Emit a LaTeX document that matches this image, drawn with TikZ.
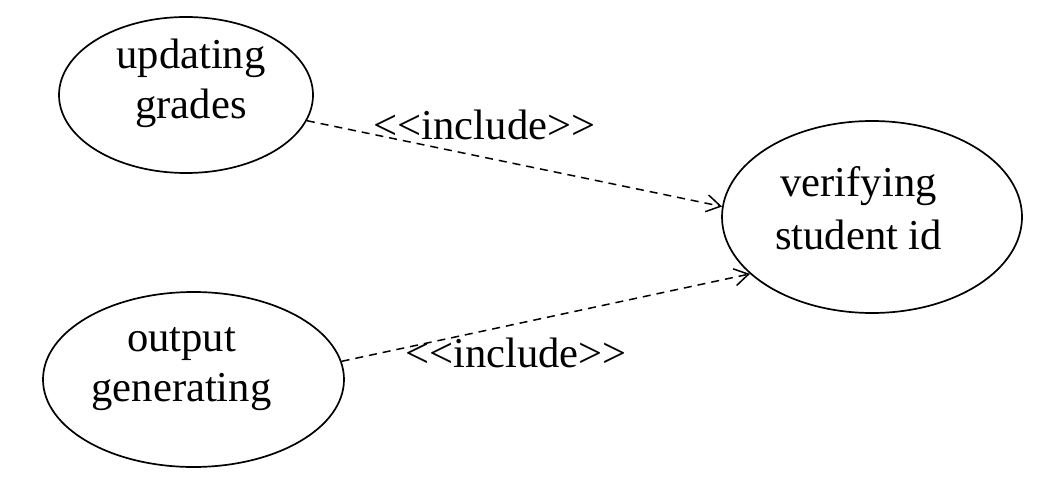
\documentclass[tikz,border=0pt]{standalone}
\usepackage{fontspec}
\setmainfont{Liberation Serif}
\usetikzlibrary{arrows.meta,shapes.geometric}

\tikzset{
  usecase/.style={draw, ellipse, line width=0.85pt, inner sep=0pt},
  uctext/.style={align=center, font=\fontsize{21.3}{25}\selectfont},
  incl/.style={dashed, dash pattern=on 4pt off 3pt, line width=0.75pt,
    -{Straight Barb[length=7pt,width=8.5pt,line width=0.75pt]}},
  incltext/.style={anchor=base, font=\fontsize{21.3}{25}\selectfont}
}

\begin{document}
\begin{tikzpicture}[x=0.5pt, y=-0.5pt]
			\useasboundingbox (0, 0) rectangle (1053, 497);

			\node[usecase, minimum width=127pt, minimum height=78pt] (upd) at (186, 95) {};
			\node[usecase, minimum width=150.5pt, minimum height=87.5pt] (out) at (193.5, 379.5) {};
			\node[usecase, minimum width=150pt, minimum height=96pt] (ver) at (872, 217) {};

			\node[uctext] (updtext) at (191, 83) {updating\\grades};
			\node[uctext] (outtext) at (181.5, 369) {output\\generating};
			\node[uctext] (vertext) at (858.5, 208) {verifying\\[1.5pt]student id};

			\node[incltext] (incl1) at (484.5, 140) {<\kern0pt<include>\kern0pt>};
			\node[incltext] (incl2) at (516, 367) {<\kern0pt<include>\kern0pt>};

			\draw [incl] (upd.-12) to (ver.176);
			\draw [incl] (out.7) to (ver.205);
		\end{tikzpicture}
\end{document}
